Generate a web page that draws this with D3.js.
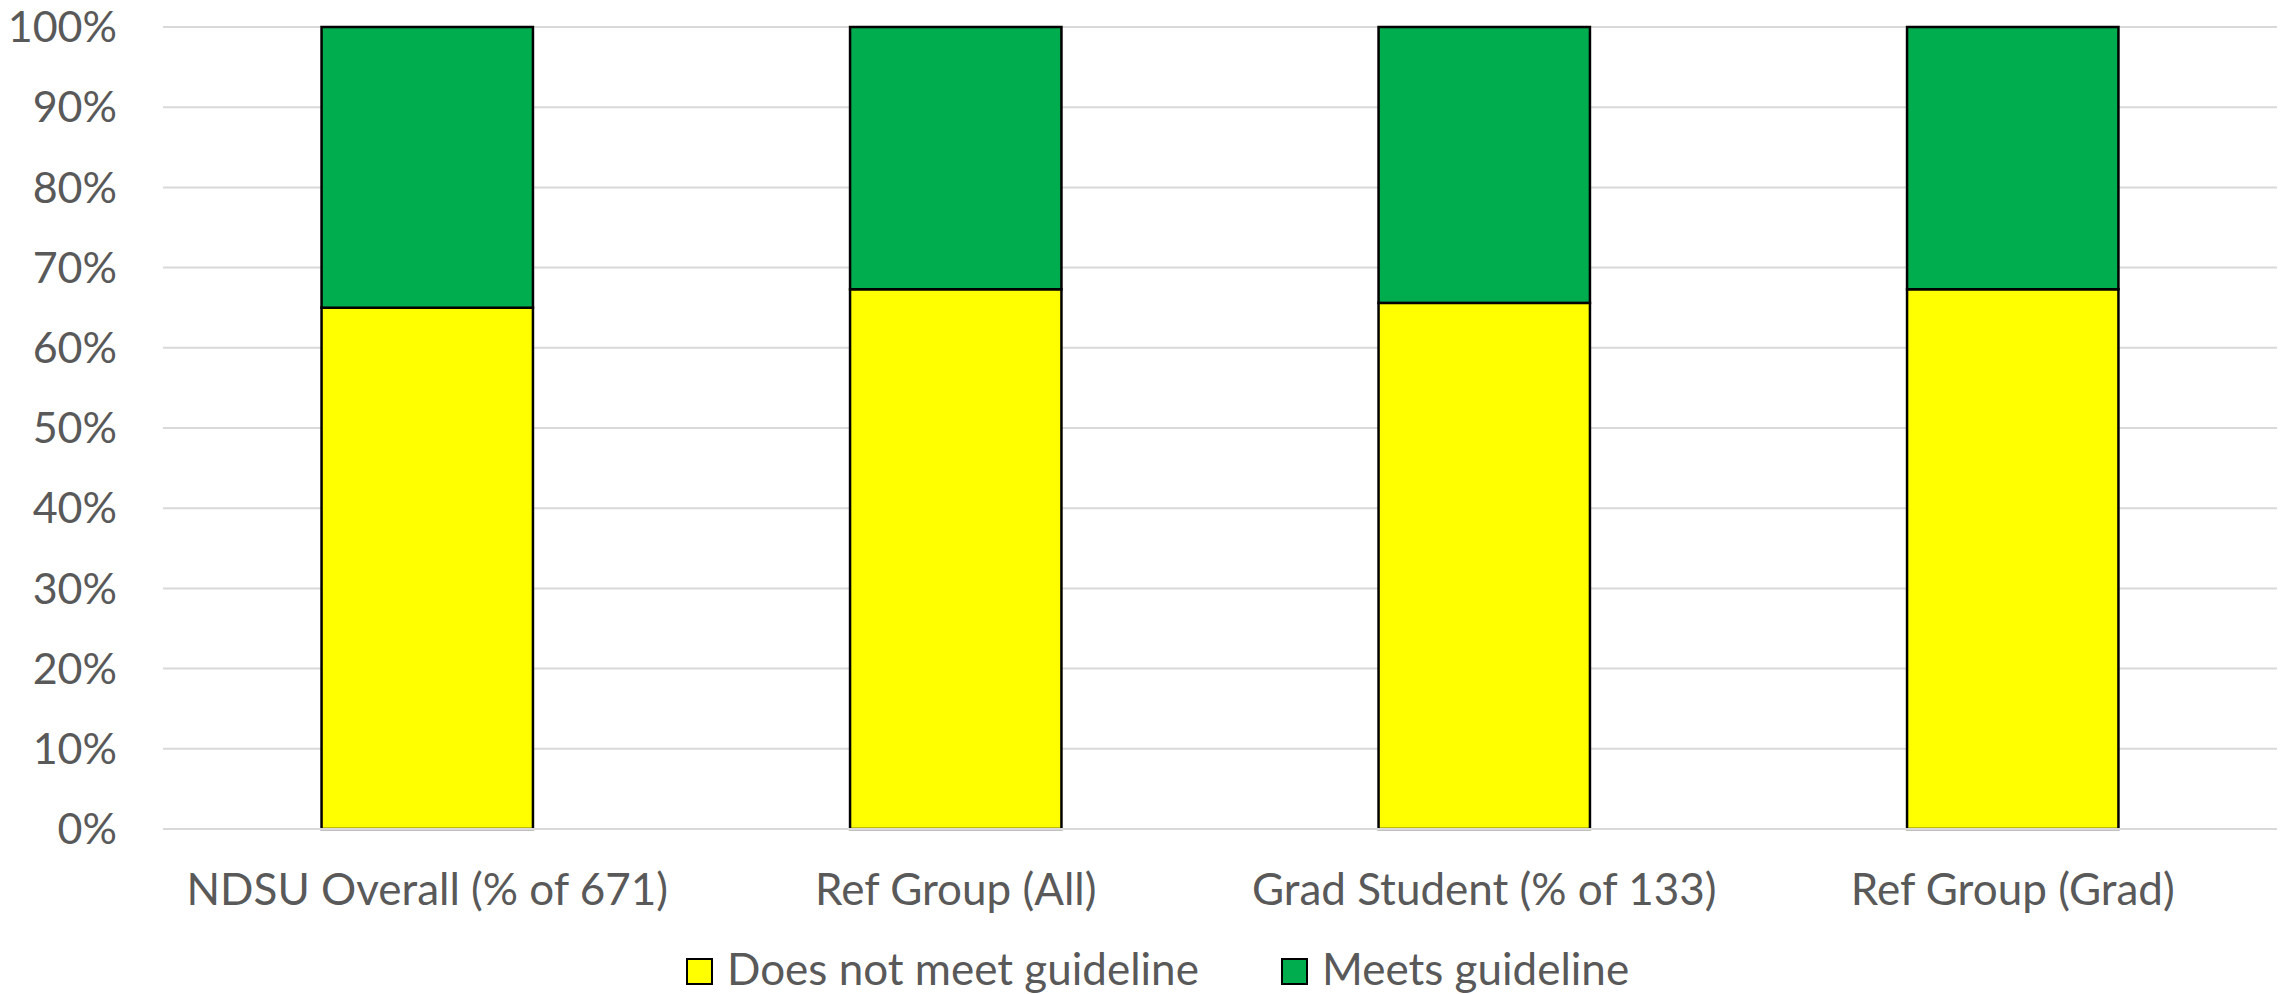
<!DOCTYPE html>
<html>
<head>
<meta charset="utf-8">
<script src="https://cdn.jsdelivr.net/npm/d3@7"></script>
<style>
  html, body { margin: 0; padding: 0; background: #fff; }
  svg text { font-family: Lato, "Open Sans", sans-serif; fill: #595959; }
</style>
</head>
<body>
<svg id="chart" width="2285" height="994"></svg>
<script>
// Share of respondents per group (fractions of 1)
const categories = ["NDSU Overall (% of 671)", "Ref Group (All)", "Grad Student (% of 133)", "Ref Group (Grad)"];
const doesNotMeet = [0.650, 0.673, 0.656, 0.673];
const meets = [0.350, 0.327, 0.344, 0.327];
const seriesNames = ["Does not meet guideline", "Meets guideline"];
const seriesColors = ["#FFFF00", "#00AD4E"];
const yTicks = [0, 0.1, 0.2, 0.3, 0.4, 0.5, 0.6, 0.7, 0.8, 0.9, 1.0];

const svg = d3.select("#chart");
const margin = { left: 163, right: 8, top: 27, bottom: 165 };
const W = 2285, H = 994;
const plotW = W - margin.left - margin.right;
const plotH = H - margin.top - margin.bottom;

const x = d3.scaleBand().domain(categories).range([margin.left, margin.left + plotW])
  .paddingInner(0.6).paddingOuter(0.3);
const y = d3.scaleLinear().domain([0, 1]).range([margin.top + plotH, margin.top]);

// Horizontal gridlines
svg.append("g").selectAll("line").data(yTicks).join("line")
  .attr("x1", margin.left).attr("x2", margin.left + plotW)
  .attr("y1", d => y(d)).attr("y2", d => y(d))
  .attr("stroke", "#D9D9D9").attr("stroke-width", 2);

// Y axis labels
const yAxis = d3.axisLeft(y).tickValues(yTicks).tickFormat(d3.format(".0%")).tickSize(0).tickPadding(46);
const gy = svg.append("g").attr("transform", `translate(${margin.left},0)`).call(yAxis);
gy.select(".domain").remove();
gy.selectAll("text").attr("font-size", 43).attr("font-family", "Lato, sans-serif")
  .attr("fill", "#595959").attr("dy", "0.34em");

// Stacked data
const rows = categories.map((c, i) => ({ cat: c, a: doesNotMeet[i], b: meets[i] }));
const stack = d3.stack().keys(["a", "b"])(rows);

svg.append("g").selectAll("g").data(stack).join("g")
  .attr("fill", (d, i) => seriesColors[i])
  .selectAll("rect").data(d => d).join("rect")
  .attr("x", d => x(d.data.cat))
  .attr("width", x.bandwidth())
  .attr("y", d => y(d[1]))
  .attr("height", d => y(d[0]) - y(d[1]))
  .attr("stroke", "#000").attr("stroke-width", 2.5);

// X axis baseline and labels
svg.append("line")
  .attr("x1", margin.left).attr("x2", margin.left + plotW)
  .attr("y1", y(0)).attr("y2", y(0))
  .attr("stroke", "#D9D9D9").attr("stroke-width", 2);

const xAxis = d3.axisBottom(x).tickSize(0).tickPadding(0);
const gx = svg.append("g").attr("transform", `translate(0,${y(0)})`).call(xAxis);
gx.select(".domain").remove();
gx.selectAll("text").attr("font-size", 44).attr("font-family", "Lato, sans-serif")
  .attr("fill", "#595959").attr("dy", null).attr("y", 76);

// Legend
const legendItems = [
  { name: seriesNames[0], color: seriesColors[0], x: 687 },
  { name: seriesNames[1], color: seriesColors[1], x: 1282 }
];
const lg = svg.append("g").selectAll("g").data(legendItems).join("g")
  .attr("transform", d => `translate(${d.x},959)`);
lg.append("rect").attr("width", 25).attr("height", 25)
  .attr("fill", d => d.color).attr("stroke", "#000").attr("stroke-width", 2);
lg.append("text").attr("x", 40).attr("y", 26).attr("font-size", 44).text(d => d.name);
</script>
</body>
</html>
